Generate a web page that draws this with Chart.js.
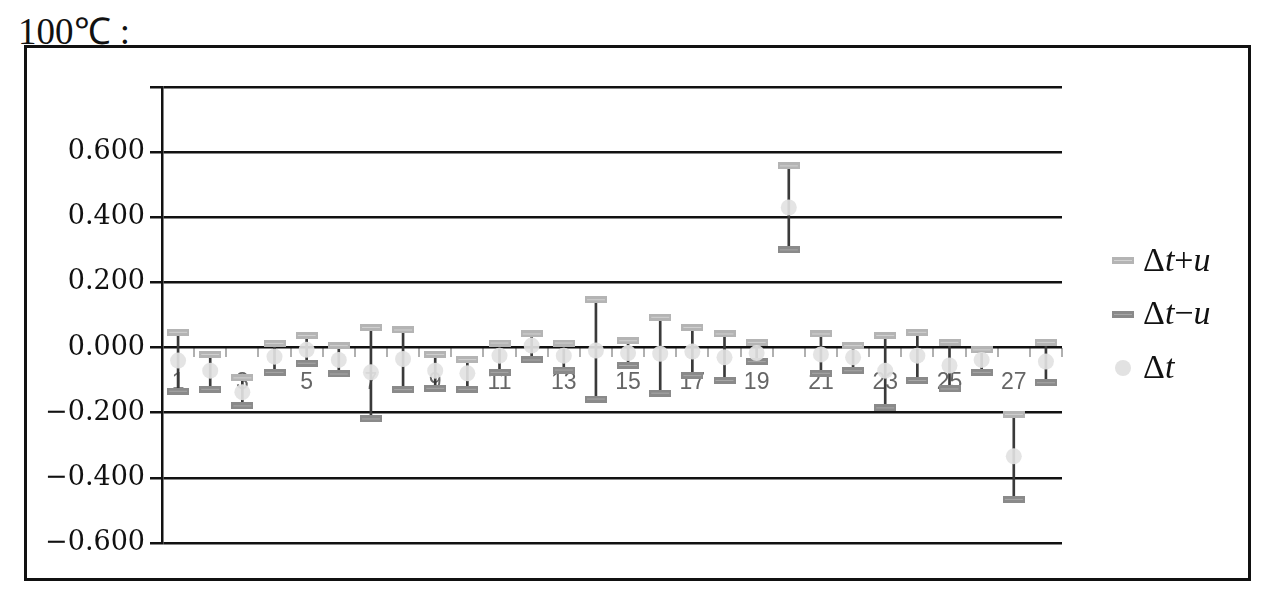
<!DOCTYPE html>
<html>
<head>
<meta charset="utf-8">
<script src="https://cdn.jsdelivr.net/npm/chart.js@4.4.1/dist/chart.umd.min.js"></script>
<style>
  html, body { margin: 0; padding: 0; background: #fff; }
  #wrap { position: relative; width: 1274px; height: 592px; overflow: hidden; }
  #frame { position: absolute; left: 24px; top: 45px; width: 1221px; height: 530px; border: 3px solid #111; }
  #title { position: absolute; left: 18px; top: 4px; font-family: "Liberation Serif", serif; font-size: 37px; color: #111; }
  canvas { position: absolute; left: 0; top: 0; }
  .leg { position: absolute; left: 1143px; font-family: "Liberation Serif", serif; font-size: 34px; color: #111; line-height: 1; }
  .leg i { font-style: italic; }
</style>
</head>
<body>
<div id="wrap">
  <div id="title">100℃ :</div>
  <div id="frame"></div>
  <canvas id="c" width="1274" height="592"></canvas>
  <div class="leg" style="top:243px">Δ<i>t</i>+<i>u</i></div>
  <div class="leg" style="top:296px">Δ<i>t</i>−<i>u</i></div>
  <div class="leg" style="top:350px">Δ<i>t</i></div>
  <canvas id="l1" width="22" height="7" style="left:1112px;top:257px"></canvas>
  <canvas id="l2" width="22" height="7" style="left:1112px;top:311px"></canvas>
  <canvas id="l3" width="18" height="18" style="left:1114px;top:359px"></canvas>
</div>
<script>
const categories = ['1','2','3','4','5','6','7','8','9','10','11','12','13','14','15','16','17','18','19','20','21','22','23','24','25','26','27','28'];
const upperValues = [0.047, -0.021, -0.093, 0.013, 0.037, 0.006, 0.062, 0.054, -0.021, -0.037, 0.014, 0.042, 0.014, 0.147, 0.021, 0.093, 0.062, 0.042, 0.016, 0.558, 0.042, 0.006, 0.037, 0.047, 0.016, -0.007, -0.205, 0.016];
const deltaValues = [-0.040, -0.071, -0.137, -0.028, -0.007, -0.038, -0.076, -0.035, -0.071, -0.079, -0.025, 0.006, -0.025, -0.009, -0.017, -0.019, -0.012, -0.030, -0.017, 0.430, -0.021, -0.030, -0.071, -0.025, -0.055, -0.038, -0.334, -0.043];
const lowerValues = [-0.134, -0.128, -0.179, -0.076, -0.048, -0.081, -0.219, -0.129, -0.125, -0.128, -0.076, -0.038, -0.069, -0.158, -0.055, -0.140, -0.086, -0.101, -0.043, 0.300, -0.079, -0.071, -0.185, -0.101, -0.127, -0.076, -0.466, -0.108];
const yTicks = [-0.6, -0.4, -0.2, 0, 0.2, 0.4, 0.6, 0.8];

function capImage(outer, inner, cv) {
  const c = cv || document.createElement('canvas');
  c.width = 22; c.height = 7;
  const g = c.getContext('2d');
  g.fillStyle = outer; g.fillRect(0, 0, 22, 7);
  g.fillStyle = inner; g.fillRect(2, 3, 18, 1);
  return c;
}
const upCap = capImage('#b4b4b4', '#d2d2d2');
const lowCap = capImage('#8a8a8a', '#a8a8a8');
capImage('#b4b4b4', '#d2d2d2', document.getElementById('l1'));
capImage('#8a8a8a', '#a8a8a8', document.getElementById('l2'));
(function(){
  const g = document.getElementById('l3').getContext('2d');
  g.fillStyle = '#e2e2e2'; g.beginPath(); g.arc(9, 9, 8, 0, Math.PI*2); g.fill();
})();

const ranges = lowerValues.map((lo, i) => [lo, upperValues[i]]);

function fmt(v) {
  if (Math.abs(v - 0.8) < 1e-9) return '';
  const a = Math.abs(v).toFixed(3);
  return (v < -1e-9 ? '−' : '') + a;
}

new Chart(document.getElementById('c'), {
  type: 'bar',
  data: {
    labels: categories,
    datasets: [
      { type: 'bar', label: 'range', data: ranges, backgroundColor: '#3a3a3a', barThickness: 2, order: 4 },
      { type: 'line', label: 'Δt−u', data: lowerValues, showLine: false, pointStyle: lowCap, pointRadius: 10, order: 3 },
      { type: 'line', label: 'Δt+u', data: upperValues, showLine: false, pointStyle: upCap, pointRadius: 10, order: 2 },
      { type: 'line', label: 'Δt', data: deltaValues, showLine: false, pointStyle: 'circle', pointRadius: 8, pointBackgroundColor: 'rgba(226,226,226,0.92)', pointBorderWidth: 0, order: 1 }
    ]
  },
  options: {
    responsive: false,
    animation: false,
    devicePixelRatio: 1,
    layout: { padding: { left: 40, right: 212, top: 87, bottom: 49 } },
    plugins: { legend: { display: false }, tooltip: { enabled: false } },
    scales: {
      x: {
        position: { y: 0 },
        offset: true,
        grid: { offset: true, drawOnChartArea: false, drawTicks: true, tickLength: 9, color: '#b0b0b0', lineWidth: 2 },
        border: { display: false },
        ticks: {
          autoSkip: false, maxRotation: 0, padding: 12,
          font: { family: 'Liberation Sans', size: 23 }, color: '#666',
          callback: function(v, i) { return i % 2 === 0 ? categories[i] : ''; }
        }
      },
      y: {
        min: -0.6, max: 0.8,
        afterBuildTicks: s => { s.ticks = yTicks.map(v => ({ value: v })); },
        afterFit: s => { s.width = 122; },
        grid: { color: '#111', lineWidth: 2.5, tickLength: 12, drawTicks: true },
        border: { display: true, color: '#111', width: 2.5 },
        ticks: { padding: 5, font: { family: 'DejaVu Serif', size: 27 }, color: '#111', callback: fmt }
      }
    }
  }
});
</script>
</body>
</html>
